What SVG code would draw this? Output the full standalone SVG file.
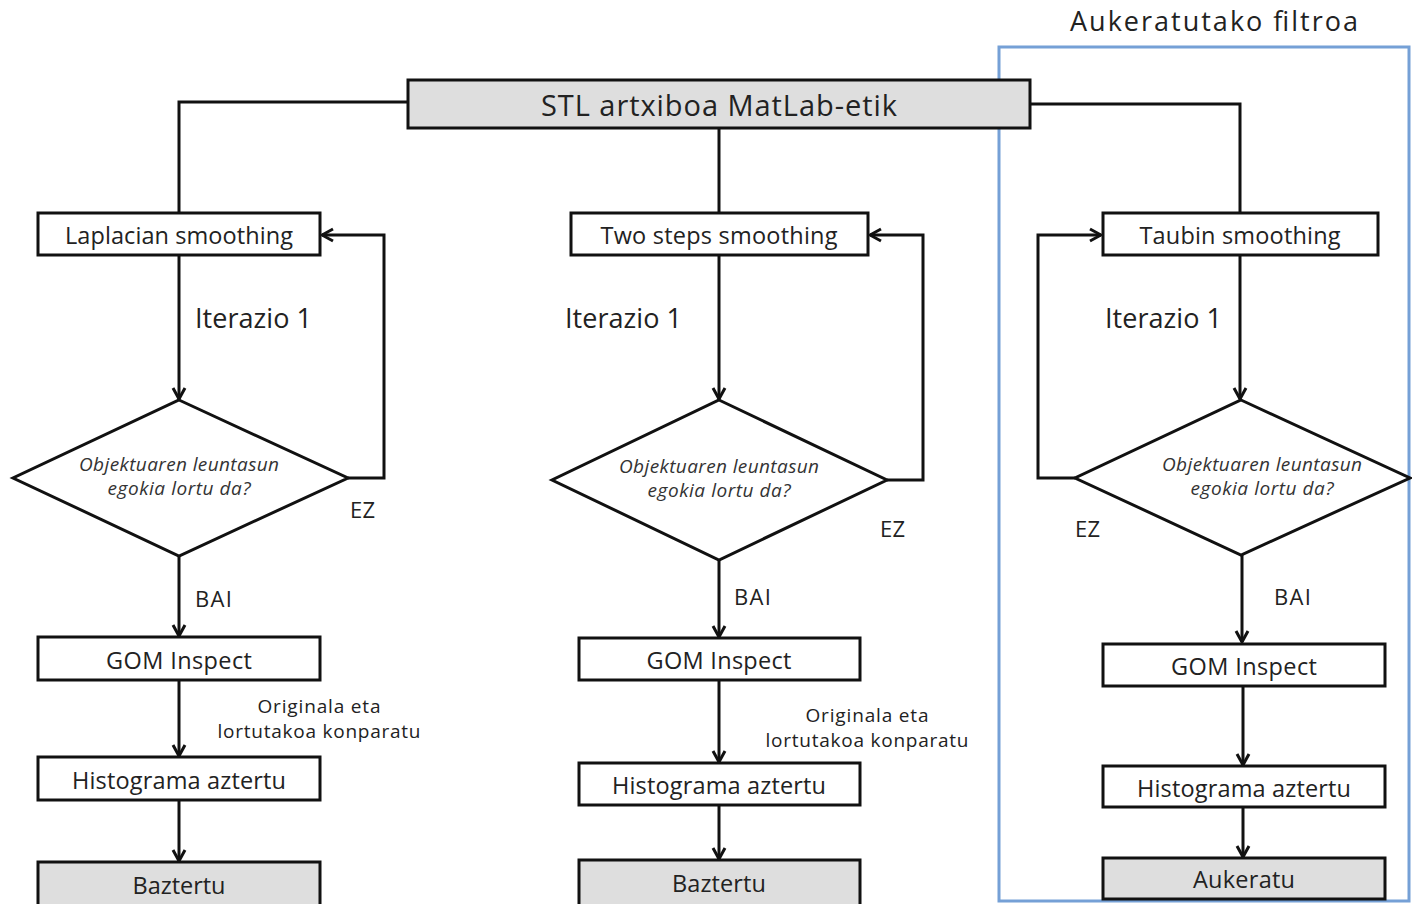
<svg xmlns="http://www.w3.org/2000/svg" width="1412" height="904" viewBox="0 0 1412 904">
  <defs>
    <marker id="arrow" viewBox="0 0 16 16" refX="14" refY="8" markerWidth="16" markerHeight="16" markerUnits="userSpaceOnUse" orient="auto">
      <path d="M3,2 L14,8 L3,14" fill="none" stroke="#111" stroke-width="3" stroke-linejoin="miter"/>
    </marker>
    <style>
      .box { fill: #ffffff; stroke: #111; stroke-width: 3; }
      .grey { fill: #dedede; }
      .dia { fill: #ffffff; stroke: #111; stroke-width: 3; }
      .line { fill: none; stroke: #111; stroke-width: 3; }
      .arr { marker-end: url(#arrow); }
      .t { font-family: "Open Sans", "Liberation Sans", sans-serif; fill: #222; text-anchor: middle; font-size: 23.5px; }
      .big { font-size: 29px; }
      .title { font-size: 27px; }
      .lbl { font-family: "Open Sans", "Liberation Sans", sans-serif; fill: #222; }
      .note { font-family: "Open Sans", "Liberation Sans", sans-serif; fill: #222; text-anchor: middle; font-size: 19px; }
      .q { font-family: "Open Sans", "Liberation Sans", sans-serif; font-style: italic; fill: #333; text-anchor: middle; font-size: 19px; }
    </style>
  </defs>

  <rect width="1412" height="904" fill="#ffffff"/>

  <!-- selected filter frame -->
  <g id="frame">
    <rect x="999" y="47" width="410" height="854" fill="none" stroke="#75a0d6" stroke-width="3"/>
    <text class="t title" x="1214" y="31" textLength="288" lengthAdjust="spacing">Aukeratutako filtroa</text>
  </g>

  <!-- connectors -->
  <g id="connectors">
    <polyline class="line" points="408,102 179,102 179,213"/>
    <line class="line" x1="719" y1="128" x2="719" y2="213"/>
    <polyline class="line" points="1030,104 1240,104 1240,213"/>

    <!-- left column -->
    <line class="line arr" x1="179" y1="255" x2="179" y2="399"/>
    <polyline class="line arr" points="348,478 384,478 384,235 322,235"/>
    <line class="line arr" x1="179" y1="556" x2="179" y2="636"/>
    <line class="line arr" x1="179" y1="680" x2="179" y2="756"/>
    <line class="line arr" x1="179" y1="800" x2="179" y2="861"/>

    <!-- middle column -->
    <line class="line arr" x1="719" y1="255" x2="719" y2="399"/>
    <polyline class="line arr" points="887,480 923,480 923,235 870,235"/>
    <line class="line arr" x1="719" y1="560" x2="719" y2="637"/>
    <line class="line arr" x1="719" y1="680" x2="719" y2="762"/>
    <line class="line arr" x1="719" y1="805" x2="719" y2="859"/>

    <!-- right column -->
    <line class="line arr" x1="1240" y1="255" x2="1240" y2="399"/>
    <polyline class="line arr" points="1075,478 1038,478 1038,235 1101,235"/>
    <line class="line arr" x1="1242" y1="555" x2="1242" y2="642"/>
    <line class="line arr" x1="1243" y1="686" x2="1243" y2="765"/>
    <line class="line arr" x1="1243" y1="807" x2="1243" y2="857"/>
  </g>

  <!-- connector labels -->
  <g id="labels">
    <text class="lbl" x="195" y="328" font-size="27" textLength="117" lengthAdjust="spacing">Iterazio 1</text>
    <text class="lbl" x="565" y="328" font-size="27" textLength="117" lengthAdjust="spacing">Iterazio 1</text>
    <text class="lbl" x="1105" y="328" font-size="27" textLength="117" lengthAdjust="spacing">Iterazio 1</text>
    <text class="lbl" x="350" y="518" font-size="22" textLength="25" lengthAdjust="spacing">EZ</text>
    <text class="lbl" x="880" y="537" font-size="22" textLength="25" lengthAdjust="spacing">EZ</text>
    <text class="lbl" x="1075" y="537" font-size="22" textLength="25" lengthAdjust="spacing">EZ</text>
    <text class="lbl" x="195" y="607" font-size="22" textLength="37" lengthAdjust="spacing">BAI</text>
    <text class="lbl" x="734" y="605" font-size="22" textLength="37" lengthAdjust="spacing">BAI</text>
    <text class="lbl" x="1274" y="605" font-size="22" textLength="37" lengthAdjust="spacing">BAI</text>
    <text class="note" x="319" y="713" textLength="123" lengthAdjust="spacing">Originala eta</text>
    <text class="note" x="319" y="738" textLength="203" lengthAdjust="spacing">lortutakoa konparatu</text>
    <text class="note" x="867" y="722" textLength="123" lengthAdjust="spacing">Originala eta</text>
    <text class="note" x="867" y="747" textLength="203" lengthAdjust="spacing">lortutakoa konparatu</text>
  </g>

  <!-- nodes -->
  <g id="stl">
    <rect class="box grey" x="408" y="80" width="622" height="48"/>
    <text class="t big" x="719" y="116" textLength="356" lengthAdjust="spacing">STL artxiboa MatLab-etik</text>
  </g>

  <g id="laplacian">
    <rect class="box" x="38" y="213" width="282" height="42"/>
    <text class="t" x="179" y="244" textLength="228" lengthAdjust="spacing">Laplacian smoothing</text>
  </g>
  <g id="decision-left">
    <polygon class="dia" points="179,400 348,478 179,556 13,478"/>
    <text class="q" x="179" y="471" textLength="200" lengthAdjust="spacing">Objektuaren leuntasun</text>
    <text class="q" x="179" y="495" textLength="143" lengthAdjust="spacing">egokia lortu da?</text>
  </g>
  <g id="gom-left">
    <rect class="box" x="38" y="637" width="282" height="43"/>
    <text class="t" x="179" y="669" textLength="146" lengthAdjust="spacing">GOM Inspect</text>
  </g>
  <g id="histogram-left">
    <rect class="box" x="38" y="757" width="282" height="43"/>
    <text class="t" x="179" y="789" textLength="214" lengthAdjust="spacing">Histograma aztertu</text>
  </g>
  <g id="reject-left">
    <rect class="box grey" x="38" y="862" width="282" height="44"/>
    <text class="t" x="179" y="894" textLength="93" lengthAdjust="spacing">Baztertu</text>
  </g>

  <g id="two-steps">
    <rect class="box" x="571" y="213" width="297" height="42"/>
    <text class="t" x="719" y="244" textLength="237" lengthAdjust="spacing">Two steps smoothing</text>
  </g>
  <g id="decision-middle">
    <polygon class="dia" points="719,400 887,480 719,560 552,480"/>
    <text class="q" x="719" y="473" textLength="200" lengthAdjust="spacing">Objektuaren leuntasun</text>
    <text class="q" x="719" y="497" textLength="143" lengthAdjust="spacing">egokia lortu da?</text>
  </g>
  <g id="gom-middle">
    <rect class="box" x="579" y="638" width="281" height="42"/>
    <text class="t" x="719" y="669" textLength="145" lengthAdjust="spacing">GOM Inspect</text>
  </g>
  <g id="histogram-middle">
    <rect class="box" x="579" y="763" width="281" height="42"/>
    <text class="t" x="719" y="794" textLength="214" lengthAdjust="spacing">Histograma aztertu</text>
  </g>
  <g id="reject-middle">
    <rect class="box grey" x="579" y="860" width="281" height="46"/>
    <text class="t" x="719" y="892" textLength="94" lengthAdjust="spacing">Baztertu</text>
  </g>

  <g id="taubin">
    <rect class="box" x="1103" y="213" width="275" height="42"/>
    <text class="t" x="1240" y="244" textLength="201" lengthAdjust="spacing">Taubin smoothing</text>
  </g>
  <g id="decision-right">
    <polygon class="dia" points="1241,400 1410,478 1241,555 1075,478"/>
    <text class="q" x="1262" y="471" textLength="200" lengthAdjust="spacing">Objektuaren leuntasun</text>
    <text class="q" x="1262" y="495" textLength="143" lengthAdjust="spacing">egokia lortu da?</text>
  </g>
  <g id="gom-right">
    <rect class="box" x="1103" y="644" width="282" height="42"/>
    <text class="t" x="1244" y="675" textLength="146" lengthAdjust="spacing">GOM Inspect</text>
  </g>
  <g id="histogram-right">
    <rect class="box" x="1103" y="766" width="282" height="41"/>
    <text class="t" x="1244" y="797" textLength="214" lengthAdjust="spacing">Histograma aztertu</text>
  </g>
  <g id="select-right">
    <rect class="box grey" x="1103" y="858" width="282" height="41"/>
    <text class="t" x="1244" y="888" textLength="102" lengthAdjust="spacing">Aukeratu</text>
  </g>
</svg>
